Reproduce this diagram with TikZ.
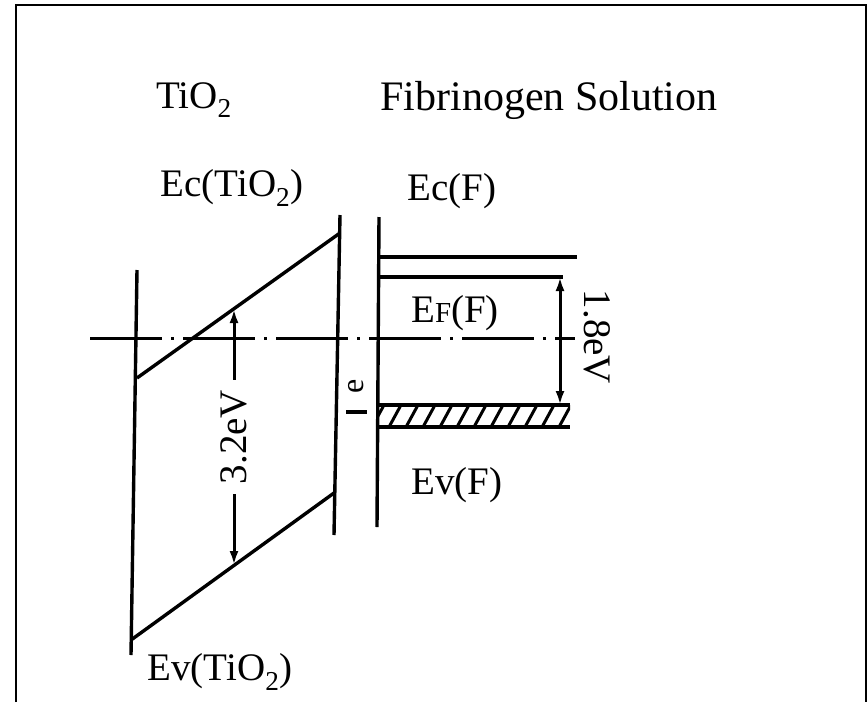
\documentclass[tikz,border=0pt]{standalone}
\usepackage{fontspec}
\setmainfont{Liberation Serif}
\usetikzlibrary{arrows.meta}
\begin{document}
\begin{tikzpicture}[x=1pt,y=-1pt,
    band/.style={line width=3.4pt},
    lbl/.style={font=\fontsize{39}{41}\selectfont, inner sep=0pt},
    dim/.style={line width=3pt, -{Latex[length=14pt,width=9pt]}}]
    \useasboundingbox (0,0) rectangle (868,702);
    \draw[line width=2pt] (16,702) -- (16,5) -- (866,5) -- (866,702);
    % headings
    \node[lbl] (tio) at (194,100) {TiO\textsubscript{2}};
    \node[lbl, font=\fontsize{42}{44}\selectfont] (fib) at (549,100) {Fibrinogen Solution};
    % TiO2 side
    \coordinate (ecL) at (137,378);
    \coordinate (ecR) at (340,233);
    \coordinate (evL) at (131,640);
    \coordinate (evR) at (334,493);
    \draw[band] (137,270) -- (131,655);
    \draw[band] (340,215) -- (334,535);
    \draw[band] (ecL) -- (ecR);
    \draw[band] (evL) -- (evR);
    \node[lbl] (ectio) at (232,188) {Ec(TiO\textsubscript{2})};
    \node[lbl] (evtio) at (220,672) {Ev(TiO\textsubscript{2})};
    % Fermi level
    \draw[line width=3pt, dash pattern=on 72pt off 9pt on 3pt off 9pt] (90,338) -- (575,338);
    % 3.2 eV gap
    \coordinate (gapT) at (234,309);
    \coordinate (gapB) at (234,565);
    \node[lbl, rotate=90, inner sep=10pt] (g32) at (234,437) {3.2eV};
    \draw[dim] (g32) -- (gapT);
    \draw[dim] (g32) -- (gapB);
    % fibrinogen side
    \draw[band] (379,217) -- (377,527);
    \draw[band] (379,257) -- (577,257);
    \draw[band] (379,277) -- (563,277);
    \node[lbl] (ecf) at (452,191) {Ec(F)};
    \node[lbl] (erf) at (455,313) {E{\fontsize{29}{31}\selectfont F}(F)};
    \node[lbl] (evf) at (457,485) {Ev(F)};
    % hatched band
    \begin{scope}
        \clip (379,405) rectangle (570,427);
        \foreach \x in {372,389,...,572}
            \draw[line width=3pt] (\x,427) -- ++(12,-22);
    \end{scope}
    \draw[band] (379,405) -- (570,405);
    \draw[band] (379,427) -- (570,427);
    % 1.8 eV
    \coordinate (efT) at (560,277);
    \coordinate (efB) at (560,405);
    \draw[dim, {Latex[length=14pt,width=9pt]}-{Latex[length=14pt,width=9pt]}] (efT) -- (efB);
    \node[lbl, rotate=-90] (g18) at (597,337) {1.8eV};
    % electron transfer
    \node[lbl, rotate=90, font=\fontsize{32}{34}\selectfont] (el) at (356,386) {e};
    \coordinate (elA) at (346,412);
    \coordinate (elB) at (367,412);
    \draw[line width=4pt] (elA) -- (elB);
\end{tikzpicture}
\end{document}
